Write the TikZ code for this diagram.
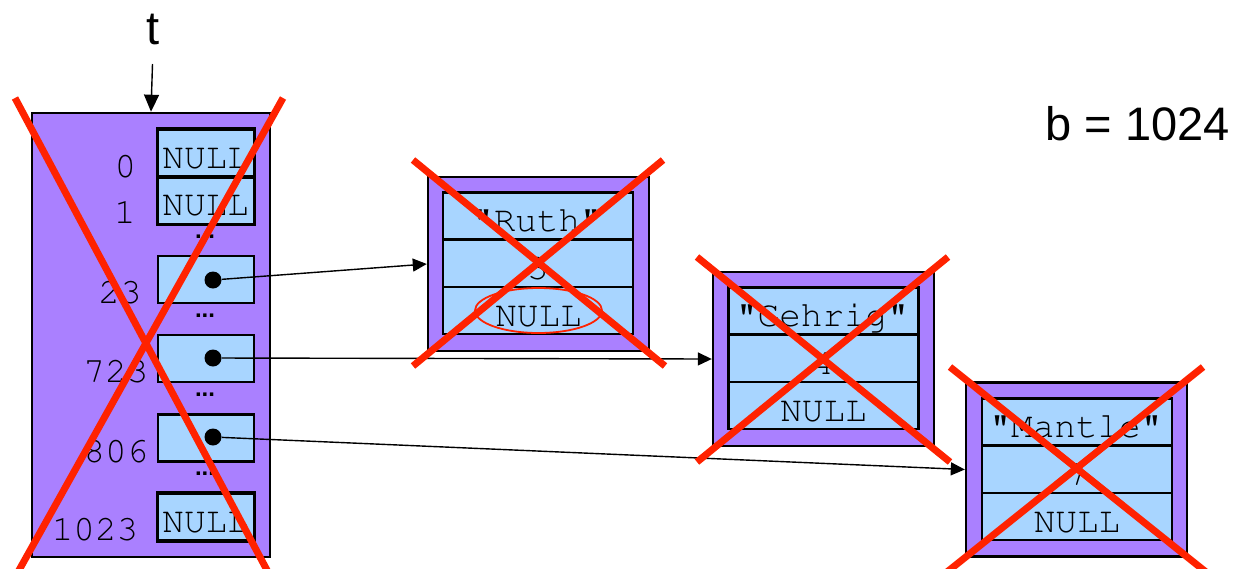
\documentclass[tikz,border=0pt]{standalone}
\usepackage[T1]{fontenc}
\usepackage{fontspec}
\setmainfont{Liberation Sans}
\newcommand{\courfont}{\fontencoding{T1}\fontfamily{pcr}\fontseries{m}\fontshape{n}}
\usetikzlibrary{arrows.meta,shapes.geometric}
\definecolor{purp}{RGB}{170,128,255}
\definecolor{lblue}{RGB}{168,213,255}
\definecolor{xred}{RGB}{255,34,0}
\begin{document}
\begin{tikzpicture}[x=0.5pt,y=-0.5pt,
  arrayouter/.style={draw=black, line width=1.3pt, fill=purp, minimum width=119pt, minimum height=222pt, inner sep=0},
  cell/.style={draw=black, line width=1.2pt, fill=lblue, minimum width=48pt, minimum height=23.5pt, inner sep=0},
  recouter/.style={draw=black, line width=1.2pt, fill=purp, minimum width=110.5pt, minimum height=87pt, inner sep=0},
  row/.style={draw=black, line width=1.2pt, fill=lblue, minimum width=95pt, minimum height=23.5pt, inner sep=0},
  mono/.style={font=\courfont\fontsize{18}{20}\selectfont, inner sep=0},
  sans/.style={font=\fontsize{23.5}{26}\selectfont, inner sep=0},
  dotsym/.style={font=\bfseries\fontsize{12}{14}\selectfont, inner sep=0},
  ptr/.style={fill=black, circle, minimum size=8.5pt, inner sep=0},
  link/.style={line width=0.7pt, -{Triangle[length=7pt,width=6.5pt]}},
  tlink/.style={line width=0.7pt, -{Triangle[length=8.5pt,width=7.5pt]}},
  cross/.style={draw=xred, line width=3.5pt},
  ring/.style={draw=xred, line width=0.9pt, ellipse, minimum width=63.5pt, minimum height=22.5pt, inner sep=0}
]
\useasboundingbox (0,0) rectangle (1237,568);

% ---- table t ----
\node[arrayouter] (arr) at (151,335) {};
\node[cell] (c0) at (206,153) {};
\node[cell] (c1) at (206,200.5) {};
\node[cell] (c23) at (206,279.5) {};
\node[cell] (c723) at (206,358.5) {};
\node[cell] (c806) at (206,438) {};
\node[cell] (c1023) at (206,517) {};

\begin{scope}
\clip (c0.south west) rectangle (c0.north east);
\node[mono, anchor=base west] (n0) at (162,168) {NULL};
\end{scope}
\begin{scope}
\clip (c1.south west) rectangle (c1.north east);
\node[mono, anchor=base west] (n1) at (162,215) {NULL};
\end{scope}
\begin{scope}
\clip (c1023.south west) rectangle (c1023.north east);
\node[mono, anchor=base west] (n1023) at (162,532) {NULL};
\end{scope}
\draw[line width=1.2pt] (c0.south west) rectangle (c0.north east);
\draw[line width=1.2pt] (c1.south west) rectangle (c1.north east);
\draw[line width=1.2pt] (c1023.south west) rectangle (c1023.north east);

\node[mono, anchor=base] (l0) at (125.5,177) {0};
\node[mono, anchor=base] (l1) at (125,223) {1};
\node[mono, anchor=base] (l23) at (120,303) {23};
\node[mono, anchor=base] (l723) at (116,382) {723};
\node[mono, anchor=base] (l806) at (116,462) {806};
\node[mono, anchor=base] (l1023) at (95,540) {1023};

\node[dotsym] (e1) at (205,237) {...};
\node[dotsym] (e2) at (205,316) {...};
\node[dotsym] (e3) at (205,395) {...};
\node[dotsym] (e4) at (205,474) {...};

\node[ptr] (p23) at (213,280) {};
\node[ptr] (p723) at (213,358) {};
\node[ptr] (p806) at (213,437) {};

% ---- t label ----
\node[sans, anchor=base] (tlab) at (153,44) {t};
\coordinate (tfrom) at (152.5,64);
\draw[tlink] (tfrom) -- (arr.north);

\node[sans, anchor=base west] (blab) at (1045,140) {b = 1024};

% ---- Ruth ----
\node[recouter] (ruth) at (538.5,264) {};
\node[row] (r1) at (538,216) {};
\node[row] (r2) at (538,263.5) {};
\node[row] (r3) at (538,310.5) {};
\node[mono, anchor=base] (rt1) at (537,231) {"Ruth"};
\node[mono, anchor=base] (rt2) at (538,279) {3};
\node[mono, anchor=base] (rt3) at (538.5,326) {NULL};
\node[ring] (rring) at (538.5,310.5) {};

% ---- Gehrig ----
\node[recouter] (gehrig) at (823.5,359) {};
\node[row] (g1) at (823.5,311) {};
\node[row] (g2) at (823.5,358.5) {};
\node[row] (g3) at (823.5,405.5) {};
\node[mono, anchor=base] (gt1) at (822.5,326) {"Gehrig"};
\node[mono, anchor=base] (gt2) at (823.5,374) {4};
\node[mono, anchor=base] (gt3) at (823.5,421) {NULL};

% ---- Mantle ----
\node[recouter] (mantle) at (1076.5,469.5) {};
\node[row] (m1) at (1077,422) {};
\node[row] (m2) at (1077,469.5) {};
\node[row] (m3) at (1077,516.5) {};
\node[mono, anchor=base] (mt1) at (1076,437) {"Mantle"};
\node[mono, anchor=base] (mt2) at (1077,485) {7};
\node[mono, anchor=base] (mt3) at (1077,532) {NULL};

% ---- links ----
\draw[link] (p23) -- (ruth.west);
\draw[link] (p723) -- (gehrig.west);
\draw[link] (p806) -- (mantle.west);

% ---- red crosses ----
\draw[cross] (15,98) -- (268,572);
\draw[cross] (283,98) -- (18,572);
\draw[cross] (413,160) -- (665,366);
\draw[cross] (663,160) -- (413,366);
\draw[cross] (697,257) -- (950,462);
\draw[cross] (948,257) -- (697,462);
\draw[cross] (950,367) -- (1206,572);
\draw[cross] (1203,367) -- (947,572);
\end{tikzpicture}
\end{document}
